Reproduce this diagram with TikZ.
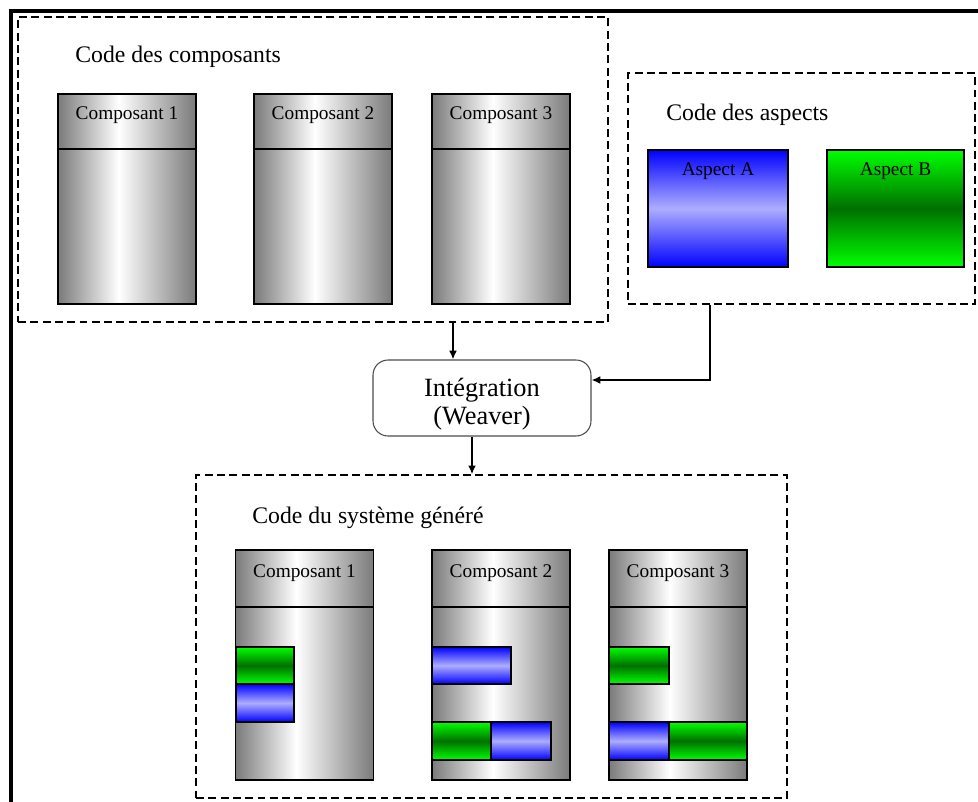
\documentclass[tikz,border=0pt]{standalone}
\usepackage{fontspec}
\setmainfont{Liberation Serif}
\usetikzlibrary{arrows.meta}

\pgfdeclarehorizontalshading{gris}{100bp}{color(0bp)=(black!52); color(25bp)=(black!52);
  color(47bp)=(white); color(75bp)=(black!52); color(100bp)=(black!52)}

\begin{document}
\begin{tikzpicture}[x=0.02cm, y=-0.02cm, >={Latex[length=5pt,width=4.5pt]},
  grp/.style={draw, dash pattern=on 4.5pt off 2.5pt, line width=0.8pt, minimum width=#1},
  grptitle/.style={anchor=west, inner sep=0pt, font=\fontsize{13.5}{16}\selectfont},
  comp/.style={draw, line width=1pt, shading=gris, minimum width=2.76cm, minimum height=#1},
  aspa/.style={draw, line width=1pt, top color=blue, bottom color=blue, middle color=blue!32},
  aspb/.style={draw, line width=1pt, top color=green, bottom color=green, middle color=green!44!black},
  lbl/.style={font=\fontsize{11}{13}\selectfont},
  weaver/.style={draw=black!70, rounded corners=0.3cm, line width=0.6pt, minimum width=4.36cm,
    minimum height=1.52cm},
  fleche/.style={->, line width=1.2pt}]

\useasboundingbox (0,0) rectangle (978,802);

% cadre
\draw[line width=2pt] (11,802) -- (11,11) -- (978,11);

% code des composants
\node[grp=11.8cm, minimum height=6.1cm] (compgrp) at (313,169.5) {};
\node[grptitle] (comptitle) at (75,57) {Code des composants};
\node[comp=4.2cm] (c1) at (127,199) {};
\node[comp=4.2cm] (c2) at (323,199) {};
\node[comp=4.2cm] (c3) at (501,199) {};
\foreach \c/\t in {c1/1, c2/2, c3/3} {
  \draw[line width=1pt] ([yshift=-1.12cm]\c.north west) -- ([yshift=-1.12cm]\c.north east);
  \node[lbl] (\c t) at ([yshift=-0.45cm]\c.north) {Composant \t};
}

% code des aspects
\node[grp=6.94cm, minimum height=4.62cm] (aspgrp) at (801.5,188.5) {};
\node[grptitle] (asptitle) at (666,115) {Code des aspects};
\node[aspa, minimum width=2.8cm, minimum height=2.34cm] (aA) at (718,208.5) {};
\node[aspb, minimum width=2.74cm, minimum height=2.34cm] (aB) at (895.5,208.5) {};
\node[lbl] (aAt) at ([yshift=-0.44cm]aA.north) {Aspect A};
\node[lbl] (aBt) at ([yshift=-0.44cm]aB.north) {Aspect B};

% integration
\node[weaver] (integ) at (482,398) {};
\node[align=center, font=\fontsize{15}{16}\selectfont] (integt) at ([yshift=-0.12cm]integ.center) {Intégration\\(Weaver)};

% code genere
\node[grp=11.82cm, minimum height=6.46cm] (gengrp) at (491.5,636.5) {};
\node[grptitle] (gentitle) at (252,518) {Code du système généré};
\node[comp=4.6cm] (g1) at (304.5,665) {};
\node[comp=4.6cm] (g2) at (501,665) {};
\node[comp=4.6cm] (g3) at (678,665) {};
\foreach \c/\t in {g1/1, g2/2, g3/3} {
  \draw[line width=1pt] ([yshift=-1.16cm]\c.north west) -- ([yshift=-1.16cm]\c.north east);
  \node[lbl] (\c t) at ([yshift=-0.48cm]\c.north) {Composant \t};
}

% aspects tisses
\draw[aspb] (236,647) rectangle (294,684);
\draw[aspa] (236,684) rectangle (294,722);
\draw[aspa] (432,647) rectangle (511,684);
\draw[aspb] (432,722) rectangle (491,760);
\draw[aspa] (491,722) rectangle (551,760);
\draw[aspb] (609,647) rectangle (669,684);
\draw[aspa] (609,722) rectangle (669,760);
\draw[aspb] (669,722) rectangle (747,760);

% fleches
\coordinate (p1) at (453,0);
\coordinate (p2) at (710,0);
\coordinate (p3) at (472,0);
\draw[fleche] (compgrp.south -| p1) -- (integ.north -| p1);
\draw[fleche] (aspgrp.south -| p2) |- ([yshift=0.36cm]integ.east);
\draw[fleche] (integ.south -| p3) -- (gengrp.north -| p3);

\end{tikzpicture}
\end{document}
